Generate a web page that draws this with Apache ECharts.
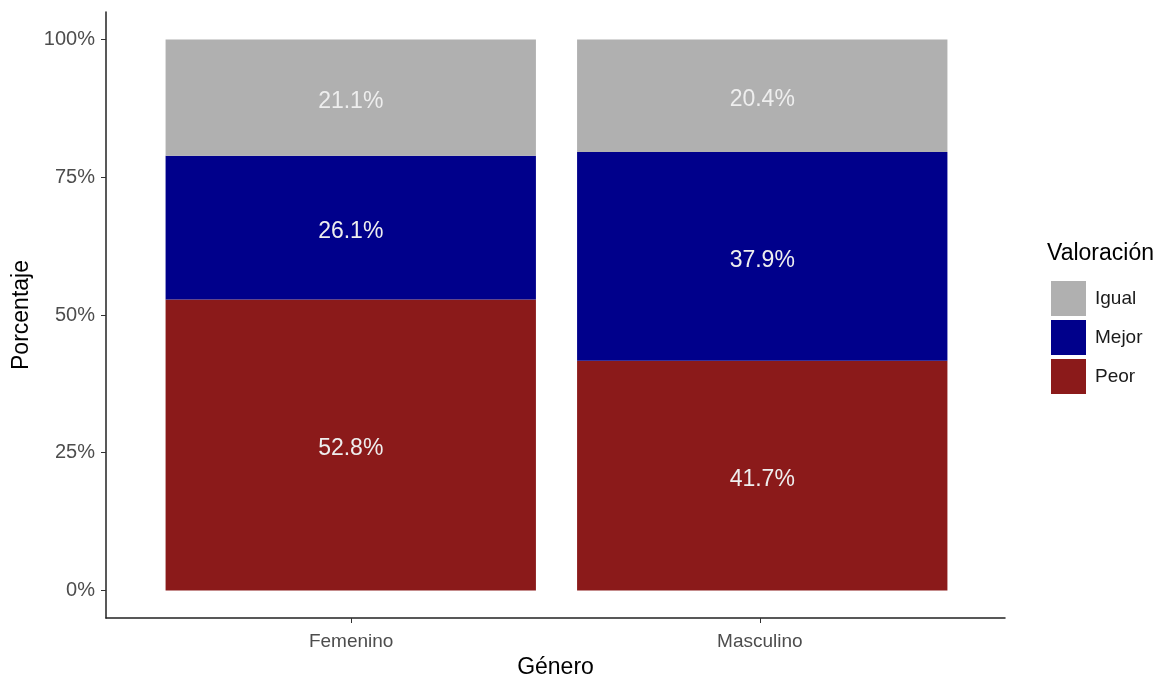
<!DOCTYPE html>
<html><head><meta charset="utf-8">
<script src="https://cdn.jsdelivr.net/npm/echarts@6/dist/echarts.min.js"></script>
<style>html,body{margin:0;padding:0;background:#fff}#c{width:1162px;height:676px}</style>
</head><body><div id="c"></div>
<script>
const categories = ['Femenino', 'Masculino'];
const levels = ['Peor', 'Mejor', 'Igual'];
const peor = [52.8, 41.7];
const mejor = [26.1, 37.9];
const igual = [21.1, 20.4];
const yTicks = [0, 25, 50, 75, 100];
const colors = {Peor: '#8B1A1A', Mejor: '#00008B', Igual: '#B0B0B0'};
const values = {Peor: peor, Mejor: mejor, Igual: igual};
const font = 'Liberation Sans, Arial, sans-serif';

const chart = echarts.init(document.getElementById('c'));
const series = levels.map(name => ({
  name, type: 'bar', stack: 'total', barWidth: '90%', xAxisIndex: 1, yAxisIndex: 1,
  itemStyle: {color: colors[name]},
  data: values[name],
  label: {show: true, position: 'inside', offset: [0, 4], color: '#eeeeee', fontSize: 23, fontFamily: font,
    formatter: p => p.value.toFixed(1) + '%'}
}));
chart.setOption({
  animation: false,
  textStyle: {fontFamily: font},
  title: {text: 'Valoración', left: 1042, top: 237, textStyle: {fontSize: 23, fontWeight: 'normal', color: '#000', fontFamily: font}},
  legend: {data: ['Igual', 'Mejor', 'Peor'], orient: 'vertical', left: 1046, top: 276, itemWidth: 35, itemHeight: 35, itemGap: 4,
    icon: 'rect', textStyle: {fontSize: 19, color: '#1a1a1a', fontFamily: font, padding: [0, 0, 0, 4]}},
  grid: [
    {left: 106, right: 157, top: 12, bottom: 58, outerBoundsMode: 'none', containLabel: false},
    {left: 145, right: 194, top: 12, bottom: 58, outerBoundsMode: 'none', containLabel: false}
  ],
  xAxis: [
    {type: 'value', gridIndex: 0, min: 0.4, max: 2.6,
      name: 'Género', nameLocation: 'middle', nameGap: 36, nameTextStyle: {fontSize: 23, color: '#000', fontFamily: font},
      axisLine: {show: true, onZero: false, lineStyle: {color: '#222', width: 1.5}},
      axisTick: {show: true, length: 5, customValues: [1, 2], lineStyle: {color: '#333'}},
      axisLabel: {customValues: [1, 2], formatter: v => categories[Math.round(v) - 1], fontSize: 19, color: '#4d4d4d', margin: 14},
      splitLine: {show: false}},
    {type: 'category', gridIndex: 1, data: categories, show: false}
  ],
  yAxis: [
    {type: 'value', gridIndex: 0, min: -5, max: 105,
      name: 'Porcentaje', nameLocation: 'middle', nameGap: 70, nameRotate: 90, nameTextStyle: {fontSize: 23, color: '#000', fontFamily: font},
      axisLine: {show: true, onZero: false, lineStyle: {color: '#222', width: 1.5}},
      axisTick: {show: true, length: 5, customValues: yTicks, lineStyle: {color: '#333'}},
      axisLabel: {customValues: yTicks, formatter: v => v + '%', fontSize: 20, color: '#4d4d4d', margin: 11},
      splitLine: {show: false}},
    {type: 'value', gridIndex: 1, min: -5, max: 105, show: false, splitLine: {show: false}}
  ],
  series
});
</script></body></html>
